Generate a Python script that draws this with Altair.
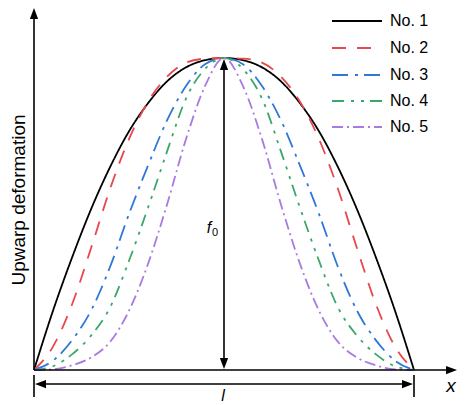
import altair as alt
import pandas as pd

# ---- data ----
X_POS = [0.0, 0.05, 0.10, 0.15, 0.20, 0.25, 0.30, 0.35, 0.40, 0.45, 0.50,
         0.55, 0.60, 0.65, 0.70, 0.75, 0.80, 0.85, 0.90, 0.95, 1.0]
NO1 = [0, 0.19, 0.36, 0.515, 0.65, 0.765, 0.855, 0.925, 0.97, 0.993, 1.0,
       0.993, 0.97, 0.925, 0.855, 0.765, 0.65, 0.515, 0.36, 0.19, 0]
NO2 = [0, 0.075, 0.21, 0.39, 0.58, 0.74, 0.86, 0.94, 0.985, 0.998, 1.0,
       0.998, 0.985, 0.94, 0.86, 0.74, 0.58, 0.39, 0.21, 0.075, 0]
NO3 = [0, 0.03, 0.095, 0.19, 0.33, 0.50, 0.655, 0.80, 0.91, 0.98, 1.0,
       0.98, 0.91, 0.80, 0.655, 0.50, 0.33, 0.19, 0.095, 0.03, 0]
NO4 = [0, 0.012, 0.05, 0.11, 0.20, 0.35, 0.52, 0.70, 0.87, 0.965, 1.0,
       0.965, 0.87, 0.70, 0.52, 0.35, 0.20, 0.11, 0.05, 0.012, 0]
NO5 = [0, 0.002, 0.015, 0.04, 0.09, 0.19, 0.34, 0.53, 0.74, 0.91, 1.0,
       0.91, 0.74, 0.53, 0.34, 0.19, 0.09, 0.04, 0.015, 0.002, 0]
SERIES = ["No. 1", "No. 2", "No. 3", "No. 4", "No. 5"]
VALUES = [NO1, NO2, NO3, NO4, NO5]

# ---- styles ----
COLORS = ["#000000", "#E8474D", "#2E78D8", "#3AA86A", "#A87BE0"]
DASHES = [[1, 0], [14, 11], [16, 7, 3, 6], [12, 7, 3, 7, 3, 6], [11, 4, 2, 4]]
FONT = "Liberation Sans"

# ---- layout: pixel -> data mapping (x: 0..l, y: 0..f0) ----
W, H = 449, 397
X0_PX, X1_PX = 34, 414
Y0_PX, Y1_PX = 370, 58


def tx(px):
    return (px - X0_PX) / (X1_PX - X0_PX)


def ty(py):
    return (Y0_PX - py) / (Y0_PX - Y1_PX)


XDOM = [tx(8), tx(8 + W)]
YDOM = [ty(8 + H), ty(8)]


def X(f):
    return alt.X(f, type="quantitative", scale=alt.Scale(domain=XDOM, nice=False, zero=False), axis=None)


def Y(f):
    return alt.Y(f, type="quantitative", scale=alt.Scale(domain=YDOM, nice=False, zero=False), axis=None)


color_scale = alt.Scale(domain=SERIES, range=COLORS)
dash_scale = alt.Scale(domain=SERIES, range=DASHES)

rows = []
for name, vals in zip(SERIES, VALUES):
    for xv, yv in zip(X_POS, vals):
        rows.append({"x": xv, "y": yv, "series": name})
curves_df = pd.DataFrame(rows)

curves = alt.Chart(curves_df).mark_line(strokeWidth=1.8, interpolate="monotone").encode(
    x=X("x"), y=Y("y"),
    color=alt.Color("series:N", scale=color_scale, legend=None),
    strokeDash=alt.StrokeDash("series:N", scale=dash_scale, legend=None),
)

# ---- legend (drawn manually) ----
LEG_Y = [21, 48, 75, 101, 127]
leg_df = pd.DataFrame({
    "series": SERIES,
    "x1": [tx(332)] * 5, "x2": [tx(382)] * 5,
    "tx": [tx(390)] * 5,
    "y": [ty(v) for v in LEG_Y],
})
leg_lines = alt.Chart(leg_df).mark_rule(strokeWidth=1.8).encode(
    x=X("x1"), x2="x2", y=Y("y"),
    color=alt.Color("series:N", scale=color_scale, legend=None),
    strokeDash=alt.StrokeDash("series:N", scale=dash_scale, legend=None),
)
leg_text = alt.Chart(leg_df).mark_text(align="left", baseline="middle", font=FONT, fontSize=16, color="black").encode(
    x=X("tx"), y=Y("y"), text="series:N"
)

# ---- axes / dimension lines ----
lines_df = pd.DataFrame([
    # y axis
    {"x1": tx(34), "y1": ty(370), "x2": tx(34), "y2": ty(14)},
    # x axis
    {"x1": tx(34), "y1": ty(370), "x2": tx(448), "y2": ty(370)},
    # f0 arrow
    {"x1": tx(224), "y1": ty(62), "x2": tx(224), "y2": ty(366)},
    # l dimension
    {"x1": tx(38), "y1": ty(384), "x2": tx(410), "y2": ty(384)},
    # end ticks
    {"x1": tx(34), "y1": ty(375), "x2": tx(34), "y2": ty(397)},
    {"x1": tx(414), "y1": ty(375), "x2": tx(414), "y2": ty(397)},
])
rules = alt.Chart(lines_df).mark_rule(strokeWidth=1.6, color="black").encode(
    x=X("x1"), y=Y("y1"), x2="x2", y2="y2"
)

ARROW = "M1,0L-1,-0.75L-1,0.75Z"
heads_df = pd.DataFrame([
    {"x": tx(34), "y": ty(13.5), "ang": 270},
    {"x": tx(451.5), "y": ty(370), "ang": 0},
    {"x": tx(224), "y": ty(64.5), "ang": 270},
    {"x": tx(224), "y": ty(363.5), "ang": 90},
    {"x": tx(40.5), "y": ty(384), "ang": 180},
    {"x": tx(407.5), "y": ty(384), "ang": 0},
])
heads = alt.Chart(heads_df).mark_point(shape=ARROW, filled=True, color="black", opacity=1, size=121, strokeWidth=0).encode(
    x=X("x"), y=Y("y"), angle=alt.Angle("ang:Q", scale=None)
)

# ---- labels ----
lab_df = pd.DataFrame([
    {"x": tx(451), "y": ty(392), "t": "x", "s": 19, "st": "italic"},
    {"x": tx(223), "y": ty(400.5), "t": "l", "s": 16, "st": "italic"},
    {"x": tx(209), "y": ty(233), "t": "f", "s": 16, "st": "italic"},
    {"x": tx(215), "y": ty(236), "t": "0", "s": 11, "st": "normal"},
])
labels_it = alt.Chart(lab_df[lab_df["st"] == "italic"]).mark_text(
    align="center", baseline="alphabetic", font=FONT, fontStyle="italic", color="black"
).encode(x=X("x"), y=Y("y"), text="t:N", size=alt.Size("s:Q", scale=None, legend=None))
labels_n = alt.Chart(lab_df[lab_df["st"] == "normal"]).mark_text(
    align="center", baseline="alphabetic", font=FONT, color="black"
).encode(x=X("x"), y=Y("y"), text="t:N", size=alt.Size("s:Q", scale=None, legend=None))

ytitle_df = pd.DataFrame([{"x": tx(19), "y": ty(200), "t": "Upwarp deformation"}])
ytitle = alt.Chart(ytitle_df).mark_text(
    angle=270, align="center", baseline="middle", font=FONT, fontSize=19, color="black"
).encode(x=X("x"), y=Y("y"), text="t:N")

chart = alt.layer(
    curves, rules, heads, leg_lines, leg_text, labels_it, labels_n, ytitle
).properties(
    width=W, height=H,
    autosize=alt.AutoSizeParams(type="none"),
    padding=0,
).configure_view(stroke=None)

chart.save("out.html", embed_options={"renderer": "svg", "actions": False})
